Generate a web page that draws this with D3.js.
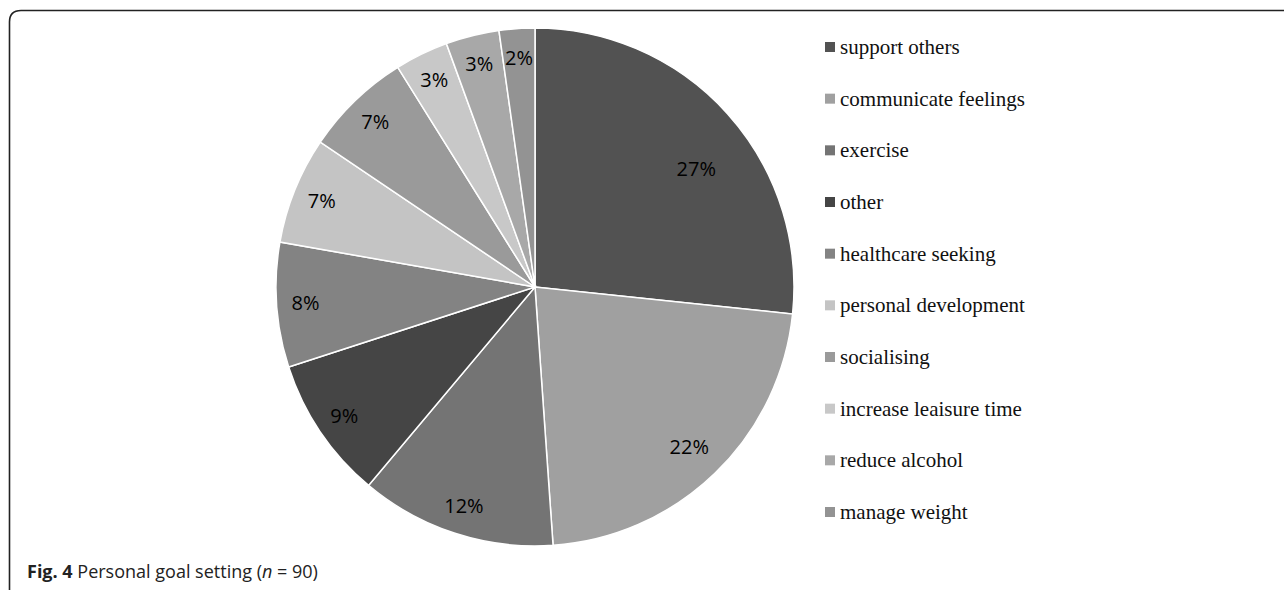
<!DOCTYPE html>
<html>
<head>
<meta charset="utf-8">
<script src="https://cdn.jsdelivr.net/npm/d3@7"></script>
<style>
  html, body { margin: 0; padding: 0; background: #fff; }
  svg { display: block; }
</style>
</head>
<body>
<div id="chart"></div>
<script>
// Goal categories and respondent counts (n = 90)
const categories = [
  "support others",
  "communicate feelings",
  "exercise",
  "other",
  "healthcare seeking",
  "personal development",
  "socialising",
  "increase leaisure time",
  "reduce alcohol",
  "manage weight"
];
const counts = [24, 20, 11, 8, 7, 6, 6, 3, 3, 2];
const greys = ["#525252", "#a0a0a0", "#747474", "#454545", "#838383",
               "#c4c4c4", "#9a9a9a", "#c8c8c8", "#a8a8a8", "#939393"];
const total = 90;

const width = 1284;
const height = 590;

const svg = d3.select("#chart")
  .append("svg")
  .attr("width", width)
  .attr("height", height);

// Frame: rounded top-left corner, open to the right and bottom
svg.append("path")
  .attr("d", "M9.5,600 L9.5,22 Q9.5,10.5 21,10.5 L1290,10.5")
  .style("fill", "none")
  .style("stroke", "#222")
  .style("stroke-width", 1.6);

// Pie
const cx = 535, cy = 287, radius = 259;
const data = categories.map((c, i) => ({ category: c, count: counts[i] }));

const color = d3.scaleOrdinal().domain(categories).range(greys);
const pie = d3.pie().value(d => d.count).sort(null);
const arc = d3.arc().innerRadius(0).outerRadius(radius);

const g = svg.append("g").attr("transform", `translate(${cx},${cy})`);
const arcs = pie(data);

g.selectAll("path.slice")
  .data(arcs)
  .enter()
  .append("path")
  .attr("class", "slice")
  .attr("d", arc)
  .style("fill", d => color(d.data.category))
  .style("stroke", "#fff")
  .style("stroke-width", 1.5);

// Percentage labels
const pct = d3.format(".0%");
const labelR = i => (i === 0 ? 200 : i === 1 ? 222 : 230);
g.selectAll("text.pct")
  .data(arcs)
  .enter()
  .append("text")
  .attr("class", "pct")
  .attr("transform", (d, i) => {
    const a = (d.startAngle + d.endAngle) / 2 + (i === 0 ? 0.1 : 0);
    return `translate(${Math.sin(a) * labelR(i)},${-Math.cos(a) * labelR(i)})`;
  })
  .attr("dy", "0.35em")
  .style("text-anchor", "middle")
  .style("font-family", "'Open Sans', sans-serif")
  .style("font-size", "20px")
  .style("fill", "#000")
  .text(d => pct(d.data.count / total));

// Legend
const legendY = d3.scalePoint().domain(categories).range([47, 512]);
const legend = svg.append("g").attr("class", "legend");

const rows = legend.selectAll("g")
  .data(categories)
  .enter()
  .append("g")
  .attr("transform", d => `translate(825,${legendY(d)})`);

rows.append("rect")
  .attr("x", 0)
  .attr("y", -5)
  .attr("width", 10)
  .attr("height", 10)
  .style("fill", d => color(d));

rows.append("text")
  .attr("x", 15)
  .attr("y", 0)
  .attr("dy", "0.33em")
  .style("font-family", "'Liberation Serif', 'Times New Roman', serif")
  .style("font-size", "21px")
  .style("fill", "#111")
  .text(d => d);

// Caption
const caption = svg.append("text")
  .attr("x", 27)
  .attr("y", 578)
  .style("font-family", "'Open Sans', sans-serif")
  .style("font-size", "18px")
  .style("fill", "#222");
caption.append("tspan").style("font-weight", "bold").text("Fig. 4");
caption.append("tspan").text(" Personal goal setting (");
caption.append("tspan").style("font-style", "italic").text("n");
caption.append("tspan").text(" = 90)");
</script>
</body>
</html>
